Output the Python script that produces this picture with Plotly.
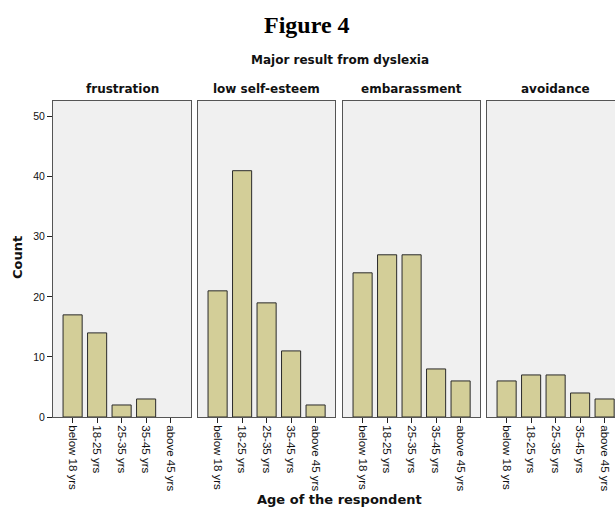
import plotly.graph_objects as go

categories = ["below 18 yrs", "18-25 yrs", "25-35 yrs", "35-45 yrs", "above 45 yrs"]
panels = ["frustration", "low self-esteem", "embarassment", "avoidance"]
frustration = [17, 14, 2, 3, 0]
low_self_esteem = [21, 41, 19, 11, 2]
embarassment = [24, 27, 27, 8, 6]
avoidance = [6, 7, 7, 4, 3]
series = [frustration, low_self_esteem, embarassment, avoidance]
y_ticks = [0, 10, 20, 30, 40, 50]

W, H = 615, 507
px_domains = [(53, 191), (198, 335), (343, 480), (487, 624)]
unit_px = 24.5

fig = go.Figure()
sans = "Liberation Sans, Arial, sans-serif"
bold = "DejaVu Sans, Verdana, sans-serif"
for i, (name, vals) in enumerate(zip(panels, series)):
    n = i + 1
    xa = "x" if n == 1 else f"x{n}"
    ya = "y" if n == 1 else f"y{n}"
    fig.add_trace(go.Bar(
        x=categories, y=vals, xaxis=xa, yaxis=ya,
        marker=dict(color="#d3ce98",
                    line=dict(color="#2a2a2a", width=[1 if v > 0 else 0 for v in vals])),
        width=0.78, showlegend=False, hoverinfo="x+y",
    ))
    d0, d1 = px_domains[i]
    d1v = min(d1, W)
    xmin = -0.8
    xmax = xmin + (d1v - d0) / unit_px
    xkey = "xaxis" if n == 1 else f"xaxis{n}"
    ykey = "yaxis" if n == 1 else f"yaxis{n}"
    fig.layout[xkey] = dict(
        domain=[d0 / W, d1v / W], anchor=ya, type="category",
        categoryorder="array", categoryarray=categories,
        range=[xmin, xmax], tickangle=90, ticks="outside", ticklen=5,
        tickcolor="#222", showline=True, linecolor="#555", linewidth=1,
        mirror=True, showgrid=False, zeroline=False, automargin=False,
        tickfont=dict(family=sans, size=11.5, color="#111"),
        fixedrange=True,
    )
    fig.layout[ykey] = dict(
        domain=[90 / H, 406 / H], anchor=xa, range=[0, 52.6],
        tickvals=y_ticks, showticklabels=(n == 1),
        ticks="outside" if n == 1 else "", ticklen=5, tickcolor="#222",
        showline=True, linecolor="#555", linewidth=1, mirror=True,
        showgrid=False, zeroline=False, automargin=False,
        tickfont=dict(family=sans, size=10.5, color="#111"),
        fixedrange=True,
    )
    fig.add_annotation(
        text=f"<b>{name}</b>", xref="paper", yref="paper",
        x=(d0 + d1) / 2 / W, y=(H - 89) / H, xanchor="center", yanchor="middle",
        showarrow=False, font=dict(family=bold, size=12, color="#111"),
    )

fig.add_annotation(text="<b>Figure 4</b>", xref="paper", yref="paper",
                   x=307 / W, y=(H - 25) / H, xanchor="center", yanchor="middle",
                   showarrow=False, font=dict(family="Liberation Serif, Times New Roman, serif", size=24, color="#000"))
fig.add_annotation(text="<b>Major result from dyslexia</b>", xref="paper", yref="paper",
                   x=339.5 / W, y=(H - 60) / H, xanchor="center", yanchor="middle",
                   showarrow=False, font=dict(family=bold, size=12, color="#111"))
fig.add_annotation(text="<b>Count</b>", xref="paper", yref="paper",
                   x=18 / W, y=(H - 258) / H, xanchor="center", yanchor="middle",
                   textangle=-90, showarrow=False, font=dict(family=bold, size=13, color="#111"))
fig.add_annotation(text="<b>Age of the respondent</b>", xref="paper", yref="paper",
                   x=339.5 / W, y=(H - 499) / H, xanchor="center", yanchor="middle",
                   showarrow=False, font=dict(family=bold, size=13, color="#111"))

fig.update_layout(
    width=W, height=H, margin=dict(l=0, r=0, t=0, b=0, pad=0),
    paper_bgcolor="white", plot_bgcolor="#f0f0f0", bargap=0.2,
)
fig.write_html("out.html", config={"displayModeBar": False},
               post_script="document.body.style.margin='0';document.body.style.overflow='hidden';")
